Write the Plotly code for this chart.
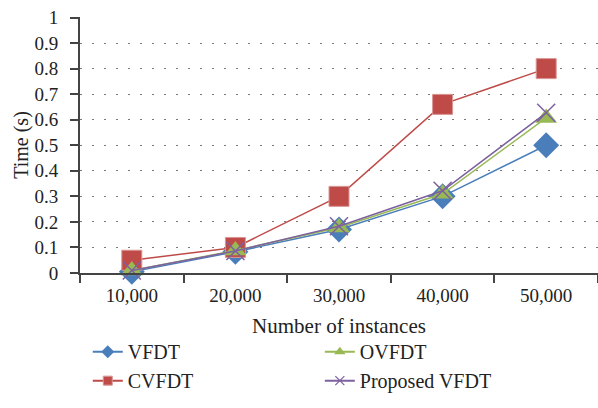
import plotly.graph_objects as go

categories = ["10,000", "20,000", "30,000", "40,000", "50,000"]
vfdt = [0.005, 0.083, 0.17, 0.30, 0.50]
cvfdt = [0.05, 0.10, 0.30, 0.66, 0.80]
ovfdt = [0.01, 0.088, 0.178, 0.31, 0.607]
proposed = [0.01, 0.086, 0.183, 0.322, 0.627]
y_ticks = [0, 0.1, 0.2, 0.3, 0.4, 0.5, 0.6, 0.7, 0.8, 0.9, 1]
y_tick_labels = ["0", "0.1", "0.2", "0.3", "0.4", "0.5", "0.6", "0.7", "0.8", "0.9", "1"]

FONT = "Liberation Serif"

series = [
    ("VFDT", vfdt, "#4a7ebb", "diamond", 20, 10, None, "legend"),
    ("CVFDT", cvfdt, "#be4b48", "square", 20, 9, dict(color="#d99694", width=1), "legend"),
    ("OVFDT", ovfdt, "#98b954", "triangle-up", 19, 10, None, "legend2"),
    ("Proposed VFDT", proposed, "#7d60a0", "x-thin-open", 18, 9, "x", "legend2"),
]

fig = go.Figure()
for name, vals, color, symbol, size, lsize, mline, leg in series:
    if mline == "x":
        mline = dict(color=color, width=1.5)
    m = dict(color=color, symbol=symbol, size=size)
    if mline:
        m["line"] = mline
    fig.add_trace(go.Scatter(
        x=categories, y=vals, name=name, mode="lines+markers",
        line=dict(color=color, width=1.5), marker=m,
        cliponaxis=False, showlegend=False,
    ))
    lm = dict(m)
    lm["size"] = lsize
    if symbol == "x-thin-open":
        lm["line"] = dict(color=color, width=1.2)
    fig.add_trace(go.Scatter(
        x=[None], y=[None], name=name, mode="lines+markers",
        line=dict(color=color, width=2), marker=lm, legend=leg,
    ))

legend_common = dict(orientation="v", yanchor="top", xanchor="left",
                     font=dict(family=FONT, size=20, color="#222"),
                     bgcolor="rgba(0,0,0,0)", tracegroupgap=0, itemsizing="trace")

fig.update_layout(
    width=598, height=408,
    margin=dict(l=80, r=0, t=17, b=135, autoexpand=False),
    plot_bgcolor="white", paper_bgcolor="white",
    font=dict(family=FONT, size=19, color="#222"),
    showlegend=True,
    legend=dict(x=0.015, y=-0.231, **legend_common),
    legend2=dict(x=0.463, y=-0.231, **legend_common),
    xaxis=dict(
        type="category", range=[-0.5, 4.5], automargin=False,
        showline=True, linecolor="#444", linewidth=2,
        ticks="outside", tickson="boundaries", ticklen=8, tickcolor="#444", tickwidth=2,
        ticklabelstandoff=4,
        showgrid=False,
        title=dict(text="Number of instances", font=dict(family=FONT, size=21), standoff=14),
        tickfont=dict(family=FONT, size=19),
    ),
    yaxis=dict(
        range=[0, 1.002], tickvals=y_ticks, ticktext=y_tick_labels, automargin=False,
        showline=True, linecolor="#444", linewidth=2,
        ticks="outside", ticklen=8, tickcolor="#444", tickwidth=2,
        ticklabelstandoff=8,
        showgrid=True, gridcolor="#777", gridwidth=1, griddash="2px,10px",
        zeroline=False,
        title=dict(text="Time (s)", font=dict(family=FONT, size=20), standoff=0),
        tickfont=dict(family=FONT, size=19),
    ),
)

fig.write_html("out.html", post_script="document.body.style.margin='0';",
               config={"displayModeBar": False})
